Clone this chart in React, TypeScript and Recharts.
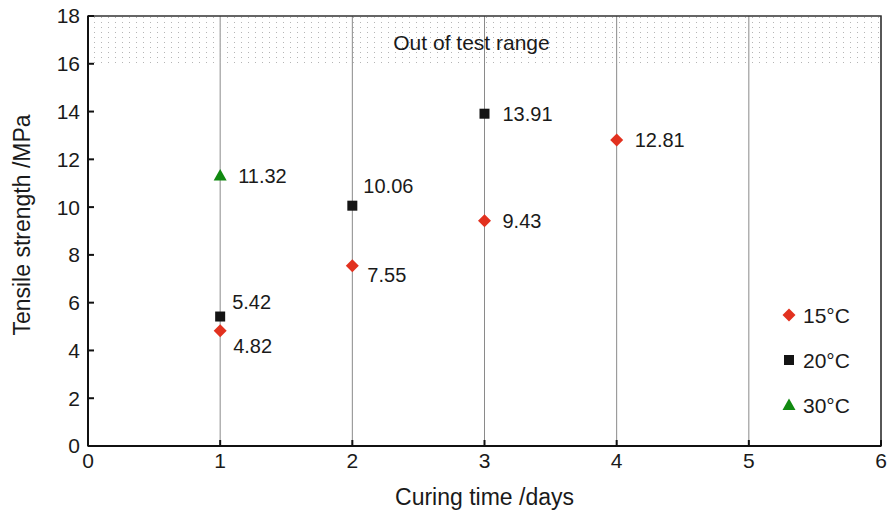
import React from 'react';
import {
  ScatterChart,
  Scatter,
  XAxis,
  YAxis,
  CartesianGrid,
  ReferenceArea,
} from 'recharts';

// curing time (days) vs tensile strength (MPa)
const days15 = [1, 2, 3, 4];
const strength15 = [4.82, 7.55, 9.43, 12.81];
const days20 = [1, 2, 3];
const strength20 = [5.42, 10.06, 13.91];
const days30 = [1];
const strength30 = [11.32];

const xTicks = [0, 1, 2, 3, 4, 5, 6];
const yTicks = [0, 2, 4, 6, 8, 10, 12, 14, 16, 18];

// where each value label sits relative to its marker
const place15 = ['below', 'lowerRight', 'right', 'right'];
const place20 = ['above', 'upperRight', 'right'];
const place30 = ['right'];

const FONT = '"Liberation Sans", Arial, Helvetica, sans-serif';
const RED = '#e2311f';
const BLACK = '#141414';
const GREEN = '#118a11';
const INK = '#1a1a1a';

const labelOffset: Record<string, [number, number]> = {
  right: [18, 0],
  above: [12, -15],
  below: [13, 15],
  upperRight: [11, -20],
  lowerRight: [15, 9],
};

const toPoints = (xs: number[], ys: number[], place: string[]) =>
  xs.map((x, i) => ({ x, y: ys[i], place: place[i] }));

const data15 = toPoints(days15, strength15, place15);
const data20 = toPoints(days20, strength20, place20);
const data30 = toPoints(days30, strength30, place30);

const Marker = ({ kind, cx, cy }: { kind: string; cx: number; cy: number }) => {
  if (kind === 'diamond') {
    const r = 6.5;
    return <polygon points={`${cx},${cy - r} ${cx + r},${cy} ${cx},${cy + r} ${cx - r},${cy}`} fill={RED} />;
  }
  if (kind === 'square') {
    return <rect x={cx - 5} y={cy - 5} width={10} height={10} fill={BLACK} />;
  }
  return <polygon points={`${cx},${cy - 6.5} ${cx + 6.5},${cy + 5} ${cx - 6.5},${cy + 5}`} fill={GREEN} />;
};

const makeShape = (kind: string) => (props: any) => {
  const { cx, cy, payload } = props;
  const [dx, dy] = labelOffset[payload.place] || labelOffset.right;
  return (
    <g>
      <Marker kind={kind} cx={cx} cy={cy} />
      <text x={cx + dx} y={cy + dy} dominantBaseline="central" fontSize={20} fontFamily={FONT} fill={INK}>
        {payload.y.toFixed(2)}
      </text>
    </g>
  );
};

const legendItems = [
  { kind: 'diamond', name: '15°C' },
  { kind: 'square', name: '20°C' },
  { kind: 'triangle', name: '30°C' },
];

const LegendBox = () => (
  <svg width={100} height={120} style={{ position: 'absolute', left: 780, top: 303 }}>
    {legendItems.map((item, i) => (
      <g key={item.name}>
        <Marker kind={item.kind} cx={9} cy={12 + i * 45} />
        <text x={23} y={12 + i * 45} dominantBaseline="central" fontSize={21} fontFamily={FONT} fill={INK}>
          {item.name}
        </text>
      </g>
    ))}
  </svg>
);

const App = () => {
  return (
    <div style={{ position: 'absolute', left: 0, top: 0, width: 894, height: 517, background: '#fff' }}>
      <ScatterChart width={894} height={517} margin={{ top: 16, right: 13, bottom: 41, left: 28 }}>
        <defs>
          <pattern id="dots" width={7} height={5} patternUnits="userSpaceOnUse">
            <rect x={3} y={2} width={1} height={1} fill="#b5b5b5" />
          </pattern>
        </defs>
        <ReferenceArea x1={0} x2={6} y1={16} y2={18} fill="url(#dots)" fillOpacity={1} stroke="none" ifOverflow="visible" />
        <CartesianGrid horizontal={false} stroke="#8a8a8a" strokeWidth={1} />
        <ReferenceArea x1={0} x2={6} y1={0} y2={18} fill="none" stroke="#333" strokeWidth={1.5} ifOverflow="visible" />
        <XAxis
          type="number"
          dataKey="x"
          height={30}
          domain={[0, 6]}
          ticks={xTicks}
          interval={0}
          allowDataOverflow
          stroke="#111"
          strokeWidth={2}
          tickSize={-6}
          tickMargin={13}
          tick={{ fontSize: 21, fontFamily: FONT, fill: INK }}
          label={{ value: 'Curing time /days', position: 'bottom', offset: 13, fontSize: 23, fontFamily: FONT, fill: INK }}
        />
        <YAxis
          type="number"
          dataKey="y"
          width={60}
          domain={[0, 18]}
          ticks={yTicks}
          interval={0}
          allowDataOverflow
          stroke="#111"
          strokeWidth={2}
          tickSize={-6}
          tickMargin={14}
          tick={{ fontSize: 21, fontFamily: FONT, fill: INK }}
          label={{ value: 'Tensile strength /MPa', angle: -90, position: 'insideLeft', offset: -6, dy: -6, fontSize: 23, fontFamily: FONT, fill: INK, style: { textAnchor: 'middle' } }}
        />
        <ReferenceArea
          x1={0}
          x2={6}
          y1={16}
          y2={18}
          fill="none"
          stroke="none"
          label={{ value: 'Out of test range', position: 'center', dx: -13, dy: 3, fontSize: 21, fontFamily: FONT, fill: INK }}
        />
        <Scatter name="15°C" data={data15} shape={makeShape('diamond')} isAnimationActive={false} />
        <Scatter name="20°C" data={data20} shape={makeShape('square')} isAnimationActive={false} />
        <Scatter name="30°C" data={data30} shape={makeShape('triangle')} isAnimationActive={false} />
      </ScatterChart>
      <LegendBox />
    </div>
  );
};

export default App;
